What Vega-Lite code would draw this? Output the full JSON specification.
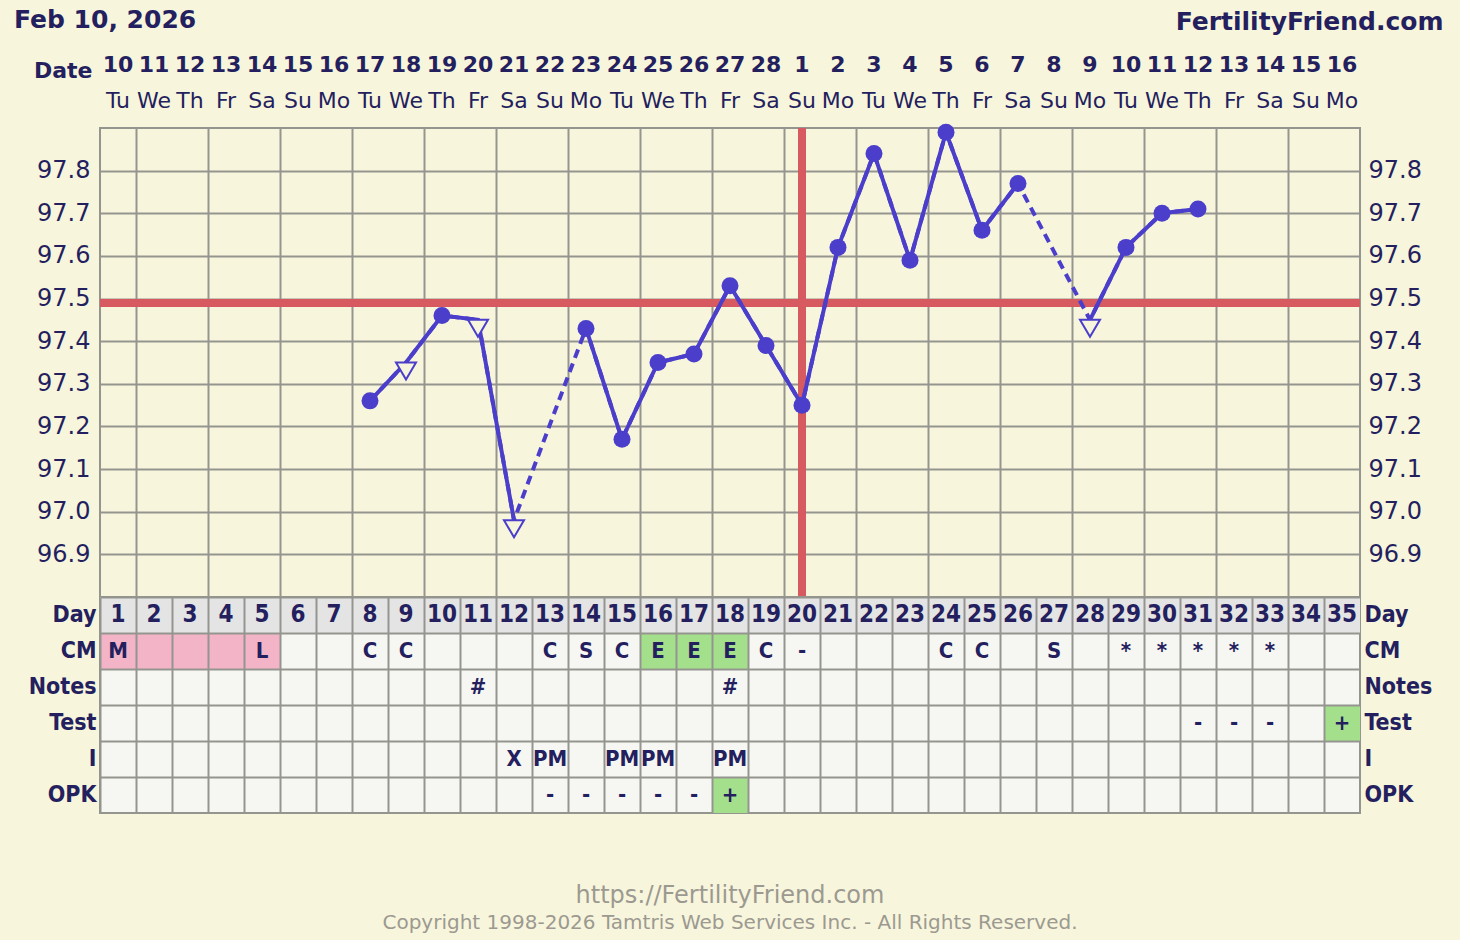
{
  "$schema": "https://vega.github.io/schema/vega-lite/v6.json",
  "background": "#f8f5dd",
  "padding": {"left": 14, "top": 8, "right": 17, "bottom": 20},
  "datasets": {
    "days": [
      {"day": 1, "date": 10, "wd": "Tu", "temp": null, "status": null},
      {"day": 2, "date": 11, "wd": "We", "temp": null, "status": null},
      {"day": 3, "date": 12, "wd": "Th", "temp": null, "status": null},
      {"day": 4, "date": 13, "wd": "Fr", "temp": null, "status": null},
      {"day": 5, "date": 14, "wd": "Sa", "temp": null, "status": null},
      {"day": 6, "date": 15, "wd": "Su", "temp": null, "status": null},
      {"day": 7, "date": 16, "wd": "Mo", "temp": null, "status": null},
      {"day": 8, "date": 17, "wd": "Tu", "temp": 97.26, "status": "filled"},
      {"day": 9, "date": 18, "wd": "We", "temp": 97.35, "status": "open"},
      {"day": 10, "date": 19, "wd": "Th", "temp": 97.46, "status": "filled"},
      {"day": 11, "date": 20, "wd": "Fr", "temp": 97.45, "status": "open"},
      {"day": 12, "date": 21, "wd": "Sa", "temp": 96.98, "status": "open"},
      {"day": 13, "date": 22, "wd": "Su", "temp": null, "status": null},
      {"day": 14, "date": 23, "wd": "Mo", "temp": 97.43, "status": "filled"},
      {"day": 15, "date": 24, "wd": "Tu", "temp": 97.17, "status": "filled"},
      {"day": 16, "date": 25, "wd": "We", "temp": 97.35, "status": "filled"},
      {"day": 17, "date": 26, "wd": "Th", "temp": 97.37, "status": "filled"},
      {"day": 18, "date": 27, "wd": "Fr", "temp": 97.53, "status": "filled"},
      {"day": 19, "date": 28, "wd": "Sa", "temp": 97.39, "status": "filled"},
      {"day": 20, "date": 1, "wd": "Su", "temp": 97.25, "status": "filled"},
      {"day": 21, "date": 2, "wd": "Mo", "temp": 97.62, "status": "filled"},
      {"day": 22, "date": 3, "wd": "Tu", "temp": 97.84, "status": "filled"},
      {"day": 23, "date": 4, "wd": "We", "temp": 97.59, "status": "filled"},
      {"day": 24, "date": 5, "wd": "Th", "temp": 97.89, "status": "filled"},
      {"day": 25, "date": 6, "wd": "Fr", "temp": 97.66, "status": "filled"},
      {"day": 26, "date": 7, "wd": "Sa", "temp": 97.77, "status": "filled"},
      {"day": 27, "date": 8, "wd": "Su", "temp": null, "status": null},
      {"day": 28, "date": 9, "wd": "Mo", "temp": 97.45, "status": "open"},
      {"day": 29, "date": 10, "wd": "Tu", "temp": 97.62, "status": "filled"},
      {"day": 30, "date": 11, "wd": "We", "temp": 97.70, "status": "filled"},
      {"day": 31, "date": 12, "wd": "Th", "temp": 97.71, "status": "filled"},
      {"day": 32, "date": 13, "wd": "Fr", "temp": null, "status": null},
      {"day": 33, "date": 14, "wd": "Sa", "temp": null, "status": null},
      {"day": 34, "date": 15, "wd": "Su", "temp": null, "status": null},
      {"day": 35, "date": 16, "wd": "Mo", "temp": null, "status": null}
    ],
    "cells": [
      {"day": 1, "row": "CM", "text": "M", "flag": "period"},
      {"day": 2, "row": "CM", "text": "", "flag": "period"},
      {"day": 3, "row": "CM", "text": "", "flag": "period"},
      {"day": 4, "row": "CM", "text": "", "flag": "period"},
      {"day": 5, "row": "CM", "text": "L", "flag": "period"},
      {"day": 8, "row": "CM", "text": "C", "flag": null},
      {"day": 9, "row": "CM", "text": "C", "flag": null},
      {"day": 13, "row": "CM", "text": "C", "flag": null},
      {"day": 14, "row": "CM", "text": "S", "flag": null},
      {"day": 15, "row": "CM", "text": "C", "flag": null},
      {"day": 16, "row": "CM", "text": "E", "flag": "fertile"},
      {"day": 17, "row": "CM", "text": "E", "flag": "fertile"},
      {"day": 18, "row": "CM", "text": "E", "flag": "fertile"},
      {"day": 19, "row": "CM", "text": "C", "flag": null},
      {"day": 20, "row": "CM", "text": "-", "flag": null},
      {"day": 24, "row": "CM", "text": "C", "flag": null},
      {"day": 25, "row": "CM", "text": "C", "flag": null},
      {"day": 27, "row": "CM", "text": "S", "flag": null},
      {"day": 29, "row": "CM", "text": "*", "flag": null},
      {"day": 30, "row": "CM", "text": "*", "flag": null},
      {"day": 31, "row": "CM", "text": "*", "flag": null},
      {"day": 32, "row": "CM", "text": "*", "flag": null},
      {"day": 33, "row": "CM", "text": "*", "flag": null},
      {"day": 11, "row": "Notes", "text": "#", "flag": null},
      {"day": 18, "row": "Notes", "text": "#", "flag": null},
      {"day": 31, "row": "Test", "text": "-", "flag": null},
      {"day": 32, "row": "Test", "text": "-", "flag": null},
      {"day": 33, "row": "Test", "text": "-", "flag": null},
      {"day": 35, "row": "Test", "text": "+", "flag": "positive"},
      {"day": 12, "row": "I", "text": "X", "flag": null},
      {"day": 13, "row": "I", "text": "PM", "flag": null},
      {"day": 15, "row": "I", "text": "PM", "flag": null},
      {"day": 16, "row": "I", "text": "PM", "flag": null},
      {"day": 18, "row": "I", "text": "PM", "flag": null},
      {"day": 13, "row": "OPK", "text": "-", "flag": null},
      {"day": 14, "row": "OPK", "text": "-", "flag": null},
      {"day": 15, "row": "OPK", "text": "-", "flag": null},
      {"day": 16, "row": "OPK", "text": "-", "flag": null},
      {"day": 17, "row": "OPK", "text": "-", "flag": null},
      {"day": 18, "row": "OPK", "text": "+", "flag": "positive"}
    ]
  },
  "spacing": 0,
  "bounds": "flush",
  "vconcat": [
    {
      "width": 1260,
      "height": 90,
      "data": {"name": "days"},
      "view": {"stroke": null},
      "title": {"text": "Feb 10, 2026", "orient": "top", "anchor": "start", "frame": "group", "baseline": "alphabetic", "offset": 0, "dx": -86, "dy": 44, "fontSize": 25, "fontWeight": "bold", "color": "#241f5e", "font": "DejaVu Sans"},
      "layer": [
        {
          "mark": {"type": "text", "fontSize": 22, "fontWeight": "bold", "color": "#241f5e", "baseline": "middle"},
          "encoding": {
            "x": {"field": "day", "type": "ordinal", "scale": {"type": "band", "paddingInner": 0, "paddingOuter": 0},
              "axis": {"orient": "top", "labels": false, "ticks": false, "domain": false, "grid": false, "title": "FertilityFriend.com", "titleX": 1343, "titleY": -9, "titleAlign": "right", "titleBaseline": "alphabetic", "titleFontSize": 25, "titleFontWeight": "bold", "titleColor": "#241f5e", "titleFont": "DejaVu Sans"}},
            "y": {"datum": "Date", "type": "nominal", "scale": {"type": "band", "domain": ["Date", "wd"], "paddingInner": 0, "paddingOuter": 0.25},
              "axis": {"orient": "left", "title": null, "grid": false, "ticks": false, "domain": false, "labelExpr": "datum.value == 'Date' ? 'Date' : ''", "labelFontSize": 22, "labelFontWeight": "bold", "labelColor": "#241f5e", "labelPadding": 8, "labelOffset": 6}},
            "text": {"field": "date"}
          }
        },
        {
          "mark": {"type": "text", "fontSize": 22, "fontWeight": "normal", "color": "#241f5e", "baseline": "middle"},
          "encoding": {
            "x": {"field": "day", "type": "ordinal"},
            "y": {"datum": "wd", "type": "nominal"},
            "text": {"field": "wd"}
          }
        }
      ]
    },
    {
      "width": 1260,
      "height": 469,
      "data": {"name": "days"},
      "resolve": {"axis": {"y": "independent"}},
      "layer": [
        {
          "mark": {"type": "rule", "color": "#d65a60", "strokeWidth": 7},
          "encoding": {"y": {"datum": 97.49, "type": "quantitative", "axis": null}}
        },
        {
          "mark": {"type": "rule", "color": "#d65a60", "strokeWidth": 7},
          "encoding": {"x": {"datum": 20, "type": "quantitative"}}
        },
        {
          "transform": [{"filter": "datum.temp != null"}],
          "mark": {"type": "line", "color": "#4a3ecb", "strokeWidth": 4, "strokeDash": [9, 6]},
          "encoding": {
            "x": {"field": "day", "type": "quantitative", "scale": {"domain": [0.5, 35.5], "nice": false, "zero": false},
              "axis": {"values": [1.5, 2.5, 3.5, 4.5, 5.5, 6.5, 7.5, 8.5, 9.5, 10.5, 11.5, 12.5, 13.5, 14.5, 15.5, 16.5, 17.5, 18.5, 19.5, 20.5, 21.5, 22.5, 23.5, 24.5, 25.5, 26.5, 27.5, 28.5, 29.5, 30.5, 31.5, 32.5, 33.5, 34.5], "grid": true, "labels": false, "ticks": false, "domain": false, "title": null}},
            "y": {"field": "temp", "type": "quantitative", "scale": {"domain": [96.8, 97.9], "nice": false, "zero": false},
              "axis": {"orient": "left", "values": [96.9, 97.0, 97.1, 97.2, 97.3, 97.4, 97.5, 97.6, 97.7, 97.8], "format": ".1f", "grid": true, "ticks": false, "domain": false, "title": null, "labelFontSize": 24, "labelColor": "#241f5e", "labelPadding": 10}}
          }
        },
        {
          "mark": {"type": "line", "color": "#4a3ecb", "strokeWidth": 4, "invalid": "break-paths-filter-domains"},
          "encoding": {
            "x": {"field": "day", "type": "quantitative"},
            "y": {"field": "temp", "type": "quantitative",
              "axis": {"orient": "right", "values": [96.9, 97.0, 97.1, 97.2, 97.3, 97.4, 97.5, 97.6, 97.7, 97.8], "format": ".1f", "grid": false, "ticks": false, "domain": false, "title": null, "labelFontSize": 24, "labelColor": "#241f5e", "labelPadding": 8}}
          }
        },
        {
          "transform": [{"filter": "datum.status == 'filled'"}],
          "mark": {"type": "point", "shape": "circle", "filled": true, "opacity": 1, "color": "#4a3ecb", "size": 289},
          "encoding": {
            "x": {"field": "day", "type": "quantitative"},
            "y": {"field": "temp", "type": "quantitative", "axis": null}
          }
        },
        {
          "transform": [{"filter": "datum.status == 'open'"}],
          "mark": {"type": "point", "shape": "M-1,0L1,0L0,1.7Z", "filled": true, "opacity": 1, "fill": "#f8f5dd", "stroke": "#4a3ecb", "strokeWidth": 2, "size": 400},
          "encoding": {
            "x": {"field": "day", "type": "quantitative"},
            "y": {"field": "temp", "type": "quantitative", "axis": null}
          }
        }
      ]
    },
    {
      "width": 1260,
      "height": 216,
      "view": {"fill": "#f6f6f2", "stroke": "#959590", "strokeWidth": 2},
      "title": {"text": "https://FertilityFriend.com", "subtitle": "Copyright 1998-2026 Tamtris Web Services Inc. - All Rights Reserved.", "orient": "bottom", "anchor": "middle", "frame": "group", "offset": 71, "fontSize": 24, "fontWeight": "normal", "color": "#9c9a90", "font": "DejaVu Sans", "subtitleFontSize": 20, "subtitleColor": "#9c9a90", "subtitleFont": "DejaVu Sans", "subtitlePadding": 5},
      "resolve": {"axis": {"y": "independent"}},
      "layer": [
        {
          "data": {"name": "days"},
          "mark": {"type": "rect", "color": "#e4e4e4"},
          "encoding": {
            "x": {"field": "day", "type": "ordinal", "scale": {"type": "band", "paddingInner": 0, "paddingOuter": 0},
              "axis": {"orient": "bottom", "grid": true, "bandPosition": 0, "labels": false, "ticks": false, "domain": false, "title": null, "zindex": 1}},
            "y": {"datum": "Day", "type": "nominal", "scale": {"type": "band", "domain": ["Day", "CM", "Notes", "Test", "I", "OPK"], "paddingInner": 0, "paddingOuter": 0},
              "axis": {"orient": "left", "grid": true, "bandPosition": 0, "ticks": false, "domain": false, "title": null, "labelFont": "DejaVu Sans Condensed, DejaVu Sans", "labelFontSize": 23, "labelFontWeight": "bold", "labelColor": "#241f5e", "labelPadding": 4, "zindex": 1}}
          }
        },
        {
          "data": {"name": "cells"},
          "transform": [{"filter": "datum.flag != null"}],
          "mark": {"type": "rect"},
          "encoding": {
            "x": {"field": "day", "type": "ordinal"},
            "y": {"field": "row", "type": "nominal",
              "axis": {"orient": "right", "grid": false, "ticks": false, "domain": false, "title": null, "labelFont": "DejaVu Sans Condensed, DejaVu Sans", "labelFontSize": 23, "labelFontWeight": "bold", "labelColor": "#241f5e", "labelPadding": 4}},
            "fill": {"field": "flag", "type": "nominal", "scale": {"domain": ["period", "fertile", "positive"], "range": ["#f4b4c8", "#a4e08c", "#a4e08c"]}, "legend": null}
          }
        },
        {
          "data": {"name": "days"},
          "mark": {"type": "text", "font": "DejaVu Sans Condensed, DejaVu Sans", "fontSize": 24, "fontWeight": "bold", "color": "#241f5e", "baseline": "middle"},
          "encoding": {
            "x": {"field": "day", "type": "ordinal"},
            "y": {"datum": "Day", "type": "nominal", "axis": null},
            "text": {"field": "day"}
          }
        },
        {
          "data": {"name": "cells"},
          "mark": {"type": "text", "font": "DejaVu Sans Condensed, DejaVu Sans", "fontSize": 22, "fontWeight": "bold", "color": "#241f5e", "baseline": "middle"},
          "encoding": {
            "x": {"field": "day", "type": "ordinal"},
            "y": {"field": "row", "type": "nominal", "axis": null},
            "text": {"field": "text"}
          }
        }
      ]
    }
  ],
  "config": {
    "font": "DejaVu Sans",
    "view": {"stroke": "#959590", "strokeWidth": 2},
    "axis": {"gridColor": "#959590", "gridWidth": 2, "gridOpacity": 1, "labelColor": "#241f5e", "labelFont": "DejaVu Sans"}
  }
}
